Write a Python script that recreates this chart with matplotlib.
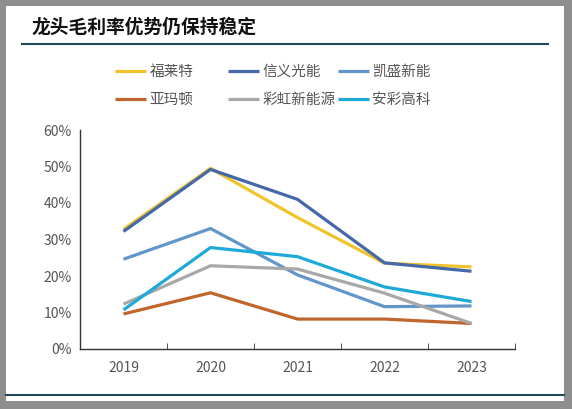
import matplotlib
matplotlib.use("Agg")
import matplotlib.pyplot as plt
from matplotlib.patches import Rectangle
from matplotlib.lines import Line2D

plt.rcParams['font.family'] = ['Noto Sans CJK SC', 'DejaVu Sans']

years = ['2019', '2020', '2021', '2022', '2023']
names = ['福莱特', '信义光能', '凯盛新能', '亚玛顿', '彩虹新能源', '安彩高科']
flat = [32.8, 49.5, 36.0, 23.5, 22.5]
xinyi = [32.2, 49.2, 41.0, 23.6, 21.3]
kaisheng = [24.6, 33.0, 20.3, 11.6, 11.8]
almaden = [9.6, 15.4, 8.2, 8.2, 7.0]
caihong = [12.3, 22.8, 21.9, 15.3, 7.0]
ancai = [10.7, 27.8, 25.3, 17.0, 13.0]
series = [flat, xinyi, kaisheng, almaden, caihong, ancai]
colors = ['#F2C42C', '#4468A8', '#6295C9', '#C0652C', '#A8A8A8', '#1EAAD9']

W, H = 572, 409
fig = plt.figure(figsize=(W / 100, H / 100), dpi=100)
fig.patch.set_facecolor('#8e8e8e')

# white panel and decor lines
fig.patches.append(Rectangle((6 / W, 1 - 401 / H), 558 / W, 395 / H,
                             transform=fig.transFigure, facecolor='white',
                             edgecolor='none', zorder=-5))
fig.add_artist(Line2D([22 / W, 548 / W], [1 - 44 / H] * 2, color='#1f4a5a', lw=1.5))
fig.add_artist(Line2D([6 / W, 564 / W], [1 - 395 / H] * 2, color='#1f4a5a', lw=1.5))
fig.text(32 / W, 1 - 27 / H, '龙头毛利率优势仍保持稳定', fontsize=13.5,
         fontweight='bold', style='italic', va='center', ha='left', color='#111111')

ax = fig.add_axes([80 / W, 1 - 349 / H, 435 / W, 219 / H], zorder=2)
ax.set_facecolor('none')
x = list(range(len(years)))
lines = []
for vals, c, n in zip(series, colors, names):
    ln, = ax.plot(x, vals, color=c, lw=2.3, label=n, solid_capstyle='butt')
    lines.append(ln)

ax.set_xlim(-0.5, 4.5)
ax.set_ylim(0, 60)
ax.set_yticks(range(0, 61, 10))
ax.set_yticklabels([f'{v}%' for v in range(0, 61, 10)])
ax.set_xticks(x)
ax.set_xticklabels(years)
ax.set_xticks([i + 0.5 for i in range(-1, 5)], minor=True)
ax.tick_params(axis='x', which='major', length=0, pad=9, labelsize=10, labelcolor='#555555')
ax.tick_params(axis='x', which='minor', direction='in', length=4, color='#333333')
ax.tick_params(axis='y', length=0, pad=6, labelsize=10, labelcolor='#555555')
for s in ['top', 'right']:
    ax.spines[s].set_visible(False)
for s in ['left', 'bottom']:
    ax.spines[s].set_color('#333333')
    ax.spines[s].set_linewidth(1.0)

# legend: three columns placed at fixed x positions
col_x = [102, 215, 325]
for k, cx in enumerate(col_x):
    idx = [k, k + 3]
    fig.legend([lines[i] for i in idx], [names[i] for i in idx],
               loc='upper left', bbox_to_anchor=(cx / W, 1 - 52 / H),
               frameon=False, fontsize=10.5, handlelength=2.1, handletextpad=0.25,
               labelspacing=0.95, labelcolor='#555555')

fig.savefig('out.png', dpi=100, facecolor=fig.get_facecolor())
